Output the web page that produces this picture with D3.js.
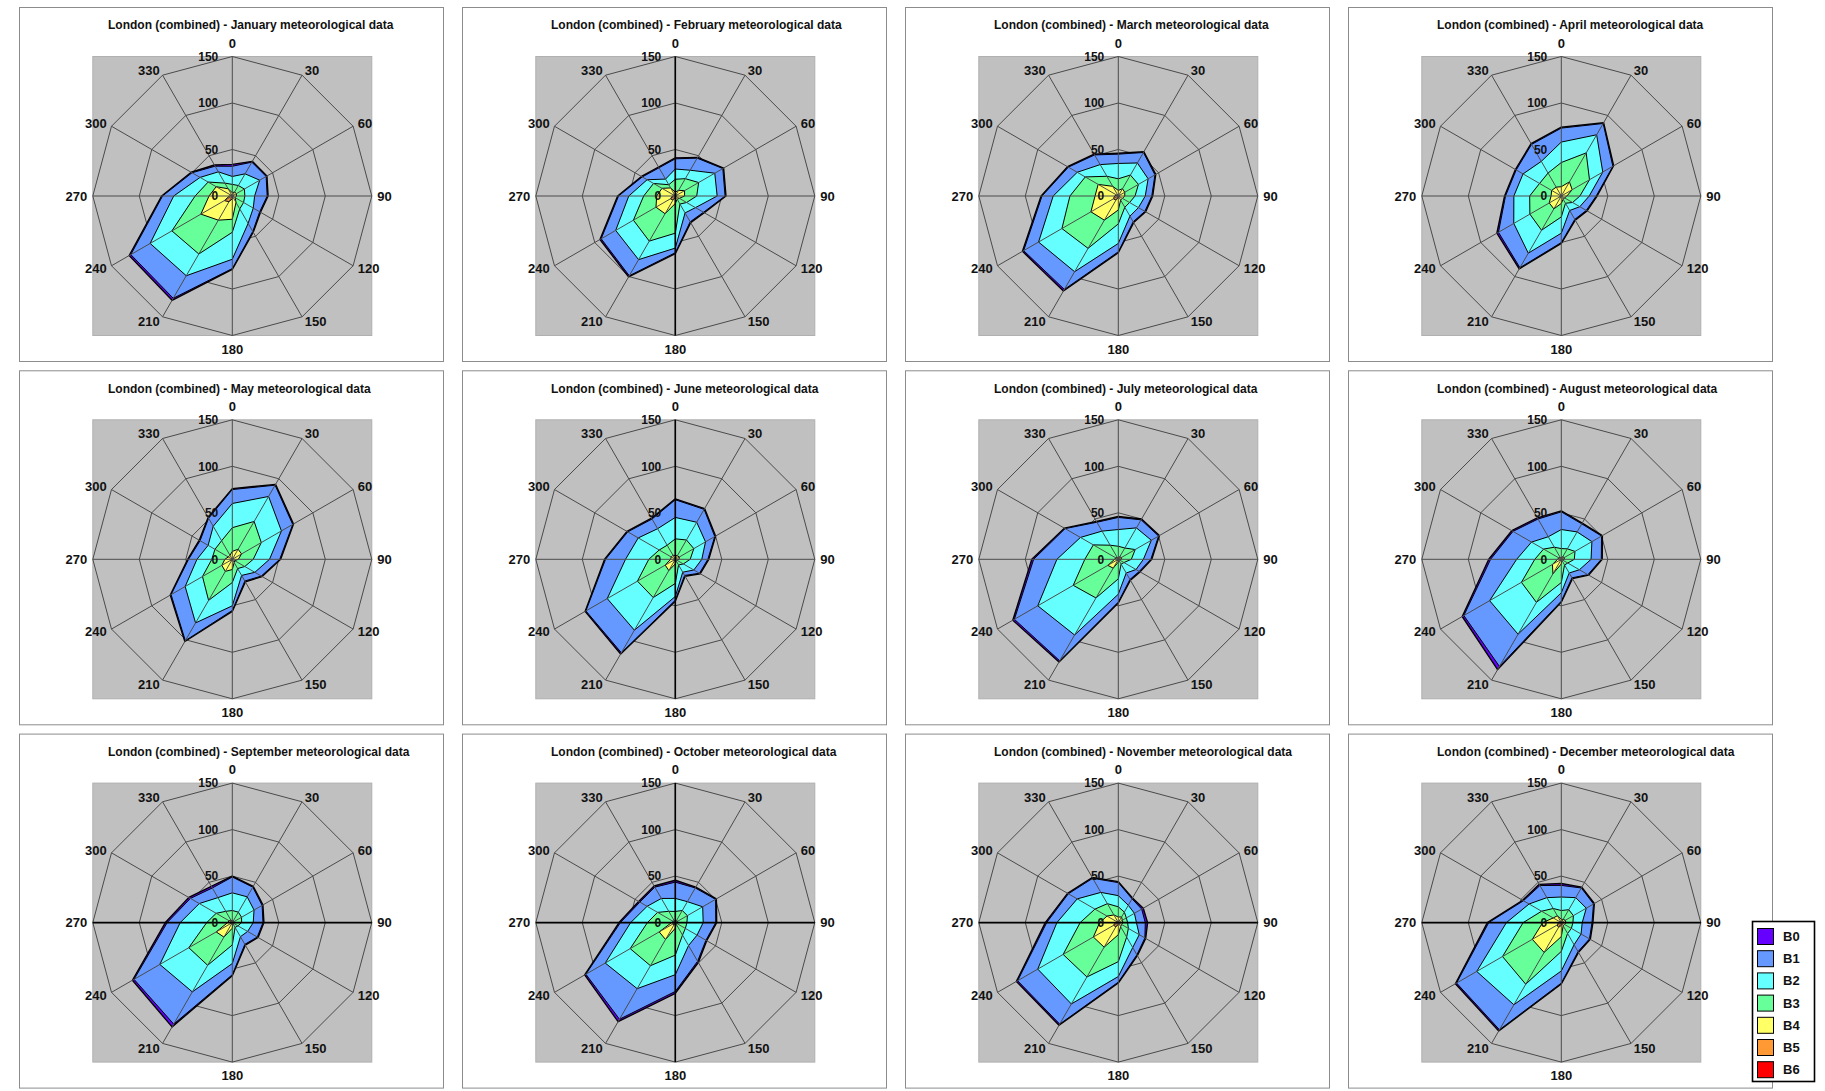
<!DOCTYPE html>
<html>
<head>
<meta charset="utf-8">
<script src="https://cdn.jsdelivr.net/npm/d3@7"></script>
<style>
  body { margin: 0; background: #fff; }
  svg { display: block; font-family: "Liberation Sans", Arial, sans-serif; }
</style>
</head>
<body>
<svg id="chart" width="1825" height="1091"></svg>
<script>
var months = ["January", "February", "March", "April", "May", "June",
    "July", "August", "September", "October", "November", "December"]
var directions = [0, 30, 60, 90, 120, 150, 180, 210, 240, 270, 300, 330]
var bands = ["B0", "B1", "B2", "B3", "B4", "B5", "B6"]
var bandColors = ["#6600FF", "#6699FF", "#66FFFF", "#66FF99", "#FFFF66", "#FF9933", "#FF0000"]
var radialTicks = [0, 50, 100, 150]

// cumulative values per month (rows) and direction (columns)
var B0 = [
    [34, 43, 43, 38.5, 35, 45, 79, 129.5, 128, 76, 51, 38.5],
    [41, 48, 60, 54.5, 36, 33, 62, 100.5, 93.5, 62, 42, 36],
    [46, 55, 46.5, 37, 34, 33, 61, 118, 119, 83, 63, 52],
    [74, 91, 65, 38.5, 32, 30, 51, 90.5, 80, 61, 57, 65],
    [76, 93, 76, 52, 37, 28, 56, 102, 77, 48, 41, 52],
    [65, 63, 50, 36, 31, 21, 45, 117.5, 112, 76, 60, 51],
    [46, 50, 51, 36, 27, 26, 47, 127.5, 131, 93, 67, 47],
    [52, 45, 51, 44, 34, 24, 46, 137, 123, 78, 61.5, 51.5],
    [50, 45, 38, 34, 32, 28, 57, 129.5, 124, 72, 54, 45],
    [45.5, 44, 51, 44.5, 39, 49.5, 76, 123, 112.5, 60.5, 45.5, 45.5],
    [44, 30.5, 31, 31.5, 34, 41, 65, 127.5, 126.5, 78.5, 63, 56],
    [42, 44, 41, 34, 36, 37, 66, 134.5, 131.5, 79.5, 48, 47.5]
]
var B1 = [
    [32, 42, 42, 37.5, 34, 44, 78, 127, 126, 75, 50, 37],
    [40, 47, 59, 53.5, 35, 32, 61, 99, 92, 61, 41, 35],
    [45, 54, 45.5, 36, 33, 32, 60, 116, 117.5, 82, 62, 51],
    [73, 90, 64, 37.5, 31, 29, 50, 89, 78, 60, 56, 64],
    [75, 92, 75, 51, 36, 27, 55, 101, 76, 47, 40, 51],
    [64, 62, 49, 35, 30, 20, 44, 116, 111, 75, 59, 50],
    [45, 49, 50, 35, 26, 25, 46, 126, 129, 91, 66, 46],
    [51, 44, 50, 43, 33, 23, 45, 133, 121, 76, 60, 50],
    [49, 44, 37, 33, 31, 27, 56, 126, 122, 70, 52, 43],
    [43.5, 43, 50, 43.5, 38, 48, 74, 120, 111, 59, 44, 44],
    [43, 29.5, 29, 29, 33, 40, 64, 126, 125, 77, 62, 55],
    [40, 43, 40, 33, 35, 36, 65, 133, 130, 78, 47, 46]
]
var B2 = [
    [21, 27.5, 34, 24, 26, 34, 68, 99, 102, 63, 40, 30],
    [29, 32, 49, 45, 25, 21, 56, 79, 74, 50, 35, 21],
    [35, 41, 37, 29, 25, 25, 51, 94, 99, 70, 51, 39],
    [58, 76, 51.5, 30, 23, 18, 40, 71, 59, 51, 47.5, 43],
    [60, 78, 61, 40, 28, 20, 50, 79, 58.5, 38, 30, 41],
    [45, 46, 37.5, 28.5, 23, 16, 40, 88, 84.5, 53.5, 46, 38],
    [32, 39, 41, 27, 22, 17, 37.5, 94, 100, 66, 47, 35],
    [32, 34, 38, 32, 22.5, 17, 36, 93, 89, 48, 37, 28],
    [32, 32, 27, 22.5, 19, 17.5, 44, 86, 90, 56, 41, 31],
    [26, 26, 34, 30, 27, 28.5, 56, 82, 87, 48, 35, 30],
    [29, 21.5, 20, 19.5, 26, 31, 58, 101, 100, 66, 51, 37.5],
    [27.5, 31, 31, 22.5, 24.5, 27.5, 52, 102, 105, 59, 40, 31]
]
var B3 = [
    [12.5, 13, 15, 13.5, 14, 16, 39, 72, 75, 40, 30, 16],
    [18, 21.5, 29, 23, 14, 10, 40, 56, 52, 34, 27, 14],
    [18.5, 26, 25, 18, 14, 14, 30, 65, 70, 52, 41, 24.5],
    [36, 53.5, 35, 20, 14, 9, 22.5, 42.5, 39, 34, 27, 28.5],
    [34, 47, 36, 22.5, 15.5, 11.5, 25, 51, 37, 22, 21.5, 23],
    [22, 24, 23, 16, 10, 7, 26, 47.5, 47, 28.5, 20, 17.5],
    [14, 14, 21, 14, 7, 6, 21, 48, 56, 36, 31, 17.5],
    [11.5, 13, 17, 14, 8, 7, 25, 53.5, 49.5, 28.5, 22, 15],
    [13, 13, 11.5, 10, 7, 6, 24, 53, 54, 27.5, 20, 14],
    [12, 15, 15, 12.5, 12.5, 15.5, 35, 53.5, 56, 30, 22, 14],
    [17, 13, 10, 10, 12.5, 18, 42, 67.5, 68.5, 41, 29, 23.5],
    [13, 16, 15, 12.5, 12.5, 13.5, 31, 76.5, 73, 41, 24.5, 17.5]
]
var B4 = [
    [3.5, 5, 5, 4.5, 3.5, 8, 25, 30, 39, 25, 20, 9],
    [4, 7, 11.5, 10, 5, 4, 8, 22, 24, 20, 16.5, 10],
    [6, 9, 8, 7, 5, 5, 15, 30, 34, 25, 25, 12],
    [10, 17.5, 13.5, 6, 4, 4, 8, 16, 15, 11, 12, 11],
    [8.5, 12.5, 11.5, 6.5, 3, 4, 11, 15, 13, 8, 5, 5],
    [4, 4.5, 5, 4, 2, 2, 5, 14, 12.5, 5, 5, 5],
    [2, 3, 4, 3, 1, 1, 3, 11, 13, 4, 3, 2],
    [2, 3, 4, 3, 1, 1, 5, 18, 11, 4, 3, 2],
    [2, 2, 2, 2, 1, 1, 6, 18, 20, 5, 4, 3],
    [2, 2, 3, 2, 2, 2, 6, 21, 20, 4, 3, 2],
    [6, 7, 5, 5, 4, 5, 13, 30.5, 31, 20, 14, 9.5],
    [3.5, 4, 5, 5, 4, 4, 15, 37, 36, 20, 10, 8.5]
]
var B5 = [
    [1, 1, 1, 1, 1, 1, 3, 7, 10, 3, 2, 1],
    [1, 1, 2, 1, 1, 1, 2, 5, 6, 3, 2, 1],
    [1, 1, 1, 1, 1, 1, 2, 5, 6, 4, 2, 1],
    [0.5, 1, 1, 0.5, 0.5, 0.5, 1, 2, 2, 1, 1, 1],
    [0.5, 1, 1, 0.5, 0.5, 0.5, 1, 2, 2, 1, 0.5, 0.5],
    [0.5, 0.5, 1, 0.5, 0.5, 0.5, 1, 2, 2, 1, 0.5, 0.5],
    [0.5, 0.5, 0.5, 0.5, 0.5, 0.5, 0.5, 1.5, 2, 1, 0.5, 0.5],
    [0.5, 0.5, 0.5, 0.5, 0.5, 0.5, 0.5, 1.5, 2, 1, 0.5, 0.5],
    [0.5, 0.5, 0.5, 0.5, 0.5, 0.5, 1, 2, 2, 1, 0.5, 0.5],
    [1, 1, 1, 1, 1, 1, 1, 3, 3, 2, 1, 1],
    [1, 1, 1, 1, 1, 1, 2, 5, 6, 3, 2, 1],
    [1, 1, 1, 1, 1, 1, 3, 6, 5, 3, 2, 1]
]
var B6 = [
    [0, 0, 0, 0, 0, 0, 0.5, 1, 1, 0.5, 0, 0],
    [0, 0, 0, 0, 0, 0, 0, 0.5, 1, 0.5, 0, 0],
    [0, 0, 0, 0, 0, 0, 0, 0.5, 1, 0.5, 0, 0],
    [0, 0, 0, 0, 0, 0, 0, 0.5, 0.5, 0, 0, 0],
    [0, 0, 0, 0, 0, 0, 0, 0, 0, 0, 0, 0],
    [0, 0, 0, 0, 0, 0, 0, 0, 0, 0, 0, 0],
    [0, 0, 0, 0, 0, 0, 0, 0, 0, 0, 0, 0],
    [0, 0, 0, 0, 0, 0, 0, 0, 0, 0, 0, 0],
    [0, 0, 0, 0, 0, 0, 0, 0.5, 0.5, 0, 0, 0],
    [0, 0, 0, 0, 0, 0, 0, 0.5, 0.5, 0, 0, 0],
    [0, 0, 0, 0, 0, 0, 0.5, 1, 1, 0.5, 0, 0],
    [0, 0, 0, 0, 0, 0, 0.5, 1, 1, 0.5, 0, 0]
]
var bandValues = [B0, B1, B2, B3, B4, B5, B6]

// axes that came out darker in each panel of the scanned sheet
var darkAxes = ["", "v", "", "", "", "v", "", "", "h", "vh", "h", "h"]

var svg = d3.select("#chart")
var panelWidth = 424, panelHeight = 354
var center = {x: 213.3, y: 189}

var rScale = d3.scaleLinear().domain([0, 150]).range([0, 139.5])
var aScale = d3.scaleLinear().domain([0, 360]).range([0, 2 * Math.PI])
var colX = d3.scaleLinear().domain([0, 1]).range([19, 462])
var rowY = d3.scaleLinear().domain([0, 1]).range([7, 370.3])

function radial(values) {
    return d3.lineRadial()
        .angle((d, j) => aScale(directions[j]))
        .radius(d => rScale(d))
        .curve(d3.curveLinearClosed)(values)
}

months.forEach(function(month, i) {
    var g = svg.append("g")
        .attr("transform", "translate(" + colX(i % 4) + "," + rowY(Math.floor(i / 4)) + ")")

    g.append("rect")
        .attr("x", 0.5).attr("y", 0.5)
        .attr("width", panelWidth).attr("height", panelHeight)
        .attr("fill", "#fff").attr("stroke", "#8c8c8c")

    g.append("text")
        .attr("x", 89).attr("y", 22.3)
        .attr("font-size", 12).attr("font-weight", "bold")
        .attr("fill", "#111")
        .text("London (combined) - " + month + " meteorological data")

    var plot = g.append("g")
        .attr("transform", "translate(" + center.x + "," + center.y + ")")

    var R = rScale(150)
    plot.append("rect")
        .attr("x", -R).attr("y", -R)
        .attr("width", 2 * R).attr("height", 2 * R)
        .attr("fill", "#C0C0C0").attr("stroke", "#b0b0b0")

    // ring gridlines
    plot.selectAll("path.ring")
        .data(radialTicks.filter(t => t > 0)).enter()
        .append("path").classed("ring", true)
        .attr("d", t => radial(directions.map(() => t)))
        .attr("fill", "none").attr("stroke", "#4a4a4a").attr("stroke-width", 1)

    // stacked bands, outermost first
    plot.selectAll("path.band")
        .data(bands).enter()
        .append("path").classed("band", true)
        .attr("d", (b, k) => radial(bandValues[k][i]))
        .attr("fill", (b, k) => bandColors[k])
        .attr("stroke", "#000")
        .attr("stroke-width", (b, k) => k == 0 ? 1.4 : 1)
        .attr("stroke-linejoin", "round")

    // spokes
    plot.selectAll("line.spoke")
        .data(directions).enter()
        .append("line").classed("spoke", true)
        .attr("x1", 0).attr("y1", 0)
        .attr("x2", d => R * Math.sin(aScale(d)))
        .attr("y2", d => -R * Math.cos(aScale(d)))
        .attr("stroke", "#4a4a4a").attr("stroke-width", 1)

    if (darkAxes[i].indexOf("v") >= 0)
        plot.append("line").attr("x1", 0).attr("x2", 0).attr("y1", -R).attr("y2", R)
            .attr("stroke", "#000").attr("stroke-width", 1.6)
    if (darkAxes[i].indexOf("h") >= 0)
        plot.append("line").attr("y1", 0).attr("y2", 0).attr("x1", -R).attr("x2", R)
            .attr("stroke", "#000").attr("stroke-width", 1.6)

    // value labels along the 0 axis
    plot.selectAll("text.tick")
        .data(radialTicks).enter()
        .append("text").classed("tick", true)
        .attr("x", -14)
        .attr("y", t => -rScale(t) + 4.3)
        .attr("text-anchor", "end")
        .attr("font-size", 12).attr("font-weight", "bold").attr("fill", "#111")
        .text(t => t)

    // direction labels: pushed sideways by half their width, top/bottom ones pushed out
    plot.selectAll("text.dir")
        .data(directions).enter()
        .append("text").classed("dir", true)
        .attr("text-anchor", "middle")
        .attr("font-size", 13).attr("font-weight", "bold").attr("fill", "#111")
        .text(d => d)
        .each(function(d) {
            var w = this.getComputedTextLength()
            var a = aScale(d)
            var s = Math.sin(a), c = Math.cos(a)
            var cx = 145 * s + (Math.abs(s) < 0.01 ? 0 : Math.sign(s) * w / 2)
            var cy = -145 * c - (Math.abs(s) < 0.01 ? Math.sign(c) * 8 : 0)
            d3.select(this).attr("x", cx).attr("y", cy + 4.6)
        })
})

// legend
var legend = svg.append("g").attr("transform", "translate(1752,921)")
legend.append("rect")
    .attr("x", 0.5).attr("y", 0.5).attr("width", 62).attr("height", 160)
    .attr("fill", "#fff").attr("stroke", "#000").attr("stroke-width", 1.6)
var items = legend.selectAll("g.item")
    .data(bands).enter()
    .append("g").classed("item", true)
    .attr("transform", (b, k) => "translate(0," + (15 + k * 22.2) + ")")
items.append("rect")
    .attr("x", 5.5).attr("y", -7.5).attr("width", 16).attr("height", 16)
    .attr("fill", (b, k) => bandColors[k]).attr("stroke", "#000")
items.append("text")
    .attr("x", 31).attr("y", 5)
    .attr("font-size", 13).attr("font-weight", "bold").attr("fill", "#111")
    .text(b => b)
</script>
</body>
</html>
